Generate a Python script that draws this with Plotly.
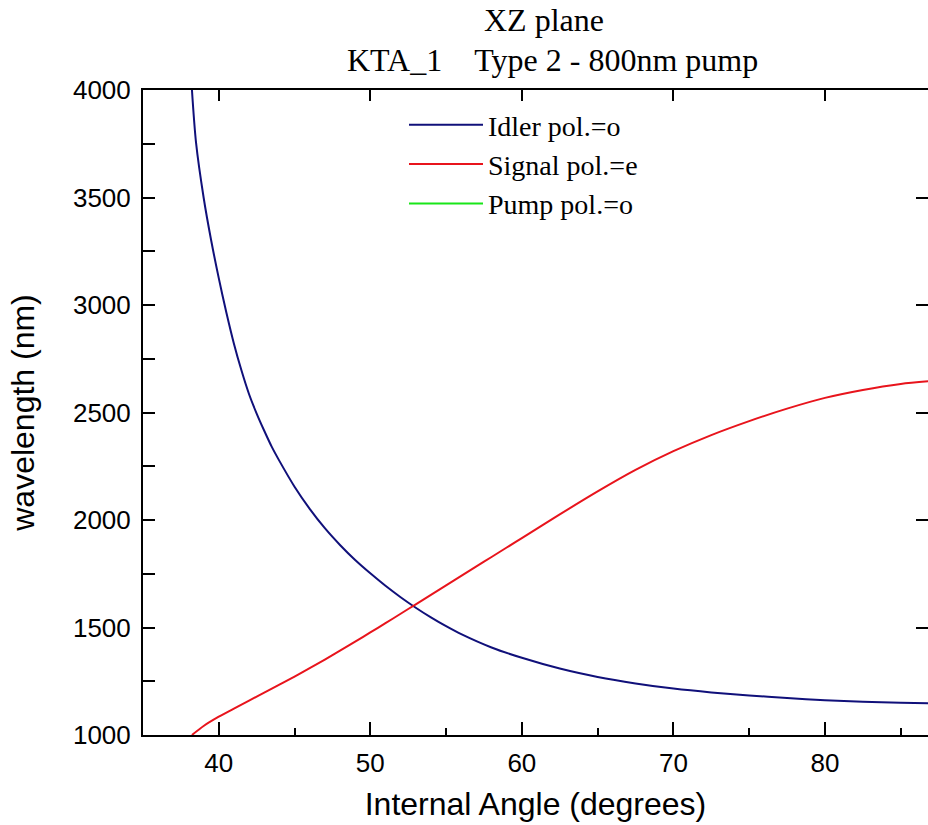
import plotly.graph_objects as go

# ---- data ----
idler_angle = [38.23, 38.5, 39.0, 39.5, 40.0, 40.5, 41.0, 41.5, 42.0, 42.5, 43.0, 43.5,
               44.0, 45.0, 46.0, 47.0, 48.0, 49.0, 50.0, 51.0, 52.0, 53.0, 54.0, 55.0,
               56.0, 58.0, 60.0, 62.5, 65.0, 67.5, 70.0, 72.5, 75.0, 77.5, 80.0, 82.5,
               85.0, 86.9]
idler_wl = [4000, 3755, 3500, 3300, 3125, 2965, 2820, 2695, 2585, 2495, 2415, 2340,
            2275, 2155, 2052, 1962, 1884, 1814, 1752, 1694, 1641, 1592, 1547, 1506,
            1469, 1407, 1359, 1309, 1270, 1240, 1216, 1198, 1184, 1172, 1162, 1155,
            1150, 1147]

signal_angle = [38.23, 39.0, 40.0, 41.0, 42.0, 43.0, 44.0, 45.0, 46.0, 47.0, 48.0,
                49.0, 50.0, 51.0, 52.0, 53.0, 54.0, 55.0, 56.0, 57.0, 58.0, 59.0,
                60.0, 62.5, 65.0, 67.5, 70.0, 72.5, 75.0, 77.5, 80.0, 82.5, 85.0, 86.9]
signal_wl = [1000, 1042, 1085, 1123, 1160, 1197, 1234, 1272, 1311, 1351, 1392,
             1434, 1477, 1520, 1564, 1608, 1652, 1696, 1740, 1784, 1828, 1872,
             1916, 2026, 2133, 2233, 2320, 2395, 2460, 2518, 2568, 2605, 2633, 2646]

pump_angle = [35.0, 86.9]
pump_wl = [800, 800]

x_ticks = [40, 50, 60, 70, 80]
y_ticks = [1000, 1500, 2000, 2500, 3000, 3500, 4000]

NB = "\u00a0"
title_line1 = "XZ plane"
title_line2 = "KTA_1" + NB * 4 + "Type 2 - 800nm pump"

X_RANGE = [35.0, 86.8]
Y_RANGE = [1000, 4000]

fig = go.Figure()
fig.add_trace(go.Scatter(x=idler_angle, y=idler_wl, mode="lines", name="Idler pol.=o",
                         line=dict(color="#10107a", width=2, shape="spline", smoothing=0.8)))
fig.add_trace(go.Scatter(x=signal_angle, y=signal_wl, mode="lines", name="Signal pol.=e",
                         line=dict(color="#e8141c", width=2, shape="spline", smoothing=0.8)))
fig.add_trace(go.Scatter(x=pump_angle, y=pump_wl, mode="lines", name="Pump pol.=o",
                         line=dict(color="#19e619", width=2), xaxis="x2", yaxis="y2"))

serif = "Liberation Serif, Times New Roman, serif"
sans = "Liberation Sans, Arial, sans-serif"

L, T, PW, PH = 143, 90, 785, 645
for txt, cx, cy in [(title_line1, 544, 20), (title_line2, 552, 60)]:
    fig.add_annotation(text=txt, xref="paper", yref="paper",
                       x=(cx - L) / PW, y=1 + (T - cy) / PH, xanchor="center", yanchor="middle",
                       showarrow=False, font=dict(family=serif, size=32, color="black"))

fig.update_layout(
    width=928, height=825,
    margin=dict(l=L, r=0, t=T, b=90),
    paper_bgcolor="white", plot_bgcolor="white",
    showlegend=True,
    legend=dict(x=(404 - L) / PW, xanchor="left", y=(735 - 100) / PH, yanchor="top",
                font=dict(family=serif, size=28, color="black"),
                bgcolor="rgba(0,0,0,0)", itemwidth=74, tracegroupgap=0),
    xaxis=dict(range=X_RANGE, tickvals=x_ticks, ticks="inside", ticklen=13, tickwidth=2,
               tickcolor="black", showline=True, linecolor="black", linewidth=2, mirror=True,
               showgrid=False, zeroline=False, ticklabelstandoff=4,
               minor=dict(dtick=5, tick0=35, ticks="inside", ticklen=7, tickwidth=2, tickcolor="black"),
               tickfont=dict(family=sans, size=26, color="black"),
               title=dict(text="Internal Angle (degrees)", font=dict(family=sans, size=32, color="black"),
                          standoff=15)),
    yaxis=dict(range=Y_RANGE, tickvals=y_ticks, ticks="inside", ticklen=12, tickwidth=2,
               tickcolor="black", showline=True, linecolor="black", linewidth=2, mirror=False,
               showgrid=False, zeroline=False, ticklabelstandoff=5,
               minor=dict(dtick=250, tick0=1000, ticks="inside", ticklen=12, tickwidth=2, tickcolor="black"),
               tickfont=dict(family=sans, size=26, color="black"),
               title=dict(text="wavelength (nm)", font=dict(family=sans, size=32, color="black"),
                          standoff=29)),
    xaxis2=dict(range=X_RANGE, overlaying="x", side="top", tickvals=x_ticks, ticks="inside",
                ticklen=11, tickwidth=2, tickcolor="black", showticklabels=False,
                showline=False, showgrid=False, zeroline=False),
    yaxis2=dict(range=Y_RANGE, overlaying="y", side="right", tickvals=y_ticks, ticks="inside",
                ticklen=12, tickwidth=2, tickcolor="black", showticklabels=False,
                showline=False, showgrid=False, zeroline=False),
)

fig.write_html("out.html")
